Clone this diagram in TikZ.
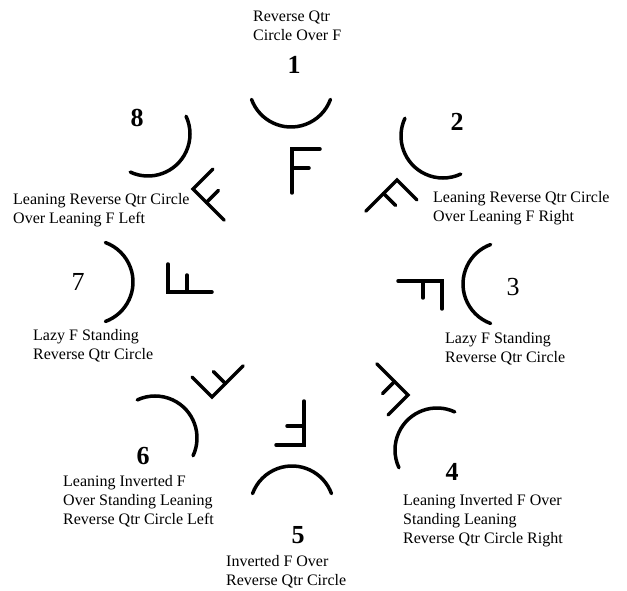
\documentclass[tikz,border=0pt]{standalone}
\usepackage{fontspec}
\setmainfont{Liberation Serif}
\tikzset{
  glyph/.style={line width=3.5pt, line cap=round},
  caption/.style={anchor=west, align=left, inner sep=0pt, font=\fontsize{16}{19}\selectfont},
  digit/.style={inner sep=0pt, font=\fontsize{26}{28}\selectfont},
  digitb/.style={inner sep=0pt, font=\fontsize{26}{28}\selectfont\bfseries},
  letterF/.pic={\draw[glyph] (28,0) -- (0,0) -- (0,-44); \draw[glyph] (0,-19) -- (17,-19);},
  qarc/.pic={\draw[glyph] (-70:42) arc[start angle=-70, end angle=70, radius=42];},
}

\begin{document}
\begin{tikzpicture}[x=1pt, y=1pt]
  \useasboundingbox (0,0) rectangle (627,590);
  \node[caption] (cap1) at (253,564) {Reverse Qtr\\Circle Over F};
  \node[digitb] (num1) at (294,525) {1};
  \pic[rotate=-90] at (291,505) {qarc};
  \pic at (292,441) {letterF};

  \node[caption] (cap2) at (433,382) {Leaning Reverse Qtr Circle\\Over Leaning F Right};
  \node[digitb] (num2) at (457,468) {2};
  \pic[rotate=-135] at (443,454) {qarc};
  \pic[rotate=-45] at (397,410) {letterF};

  \node[caption] (cap3) at (445,241) {Lazy F Standing\\Reverse Qtr Circle};
  \node[digit] (num3) at (513,303) {3};
  \pic[rotate=180] at (505,306) {qarc};
  \pic[rotate=-90] at (442,309) {letterF};

  \node[caption] (cap4) at (403,69) {Leaning Inverted F Over\\Standing Leaning\\Reverse Qtr Circle Right};
  \node[digitb] (num4) at (452,118) {4};
  \pic[rotate=135] at (437,140) {qarc};
  \pic[rotate=-135] at (408,195) {letterF};

  \node[caption] (cap5) at (226,18) {Inverted F Over\\Reverse Qtr Circle};
  \node[digitb] (num5) at (298,55) {5};
  \pic[rotate=90] at (292,82) {qarc};
  \pic[rotate=180] at (304,145) {letterF};

  \node[caption] (cap6) at (63,89) {Leaning Inverted F\\Over Standing Leaning\\Reverse Qtr Circle Left};
  \node[digitb] (num6) at (143,134) {6};
  \pic[rotate=45] at (155,152) {qarc};
  \pic[rotate=135] at (212,193) {letterF};

  \node[caption] (cap7) at (33,244) {Lazy F Standing\\Reverse Qtr Circle};
  \node[digit] (num7) at (78,308) {7};
  \pic at (91,308) {qarc};
  \pic[rotate=90] at (168,298) {letterF};

  \node[caption] (cap8) at (13,380) {Leaning Reverse Qtr Circle\\Over Leaning F Left};
  \node[digitb] (num8) at (137,472) {8};
  \pic[rotate=-45] at (148,456) {qarc};
  \pic[rotate=45] at (193,401) {letterF};
\end{tikzpicture}
\end{document}
